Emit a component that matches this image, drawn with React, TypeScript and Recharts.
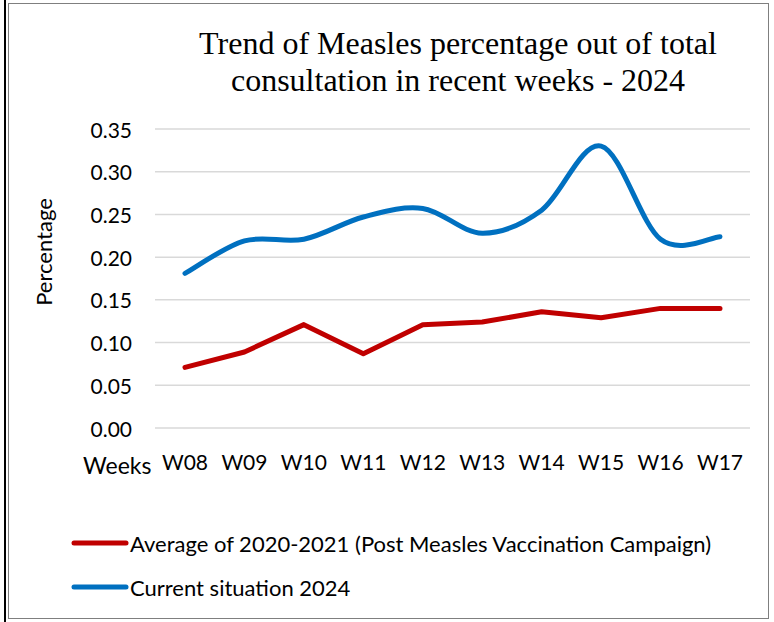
import React from "react";
import { LineChart, Line, XAxis, YAxis, CartesianGrid } from "recharts";

const weeks = ["W08", "W09", "W10", "W11", "W12", "W13", "W14", "W15", "W16", "W17"];
const avg2020to2021 = [0.071, 0.089, 0.121, 0.087, 0.121, 0.124, 0.136, 0.129, 0.14, 0.14];
const current2024 = [0.181, 0.219, 0.221, 0.247, 0.257, 0.228, 0.255, 0.33, 0.221, 0.224];
const yTicks = [0, 0.05, 0.1, 0.15, 0.2, 0.25, 0.3, 0.35];

const RED = "#C00000";
const BLUE = "#0070C0";
const SANS = "Lato, 'Noto Sans', sans-serif";

const chartData = weeks.map((w, i) => ({
  week: w,
  avg: avg2020to2021[i],
  cur: current2024[i],
}));

// Excel-like smoothed line (catmull-rom style bezier through each point)
function excelSmooth(context: any) {
  let pts: number[][] = [];
  return {
    areaStart() {},
    areaEnd() {},
    lineStart() {
      pts = [];
    },
    point(x: number, y: number) {
      pts.push([+x, +y]);
    },
    lineEnd() {
      if (!pts.length) return;
      context.moveTo(pts[0][0], pts[0][1]);
      const t = 1 / 6;
      for (let i = 0; i < pts.length - 1; i++) {
        const p0 = pts[Math.max(i - 1, 0)];
        const p1 = pts[i];
        const p2 = pts[i + 1];
        const p3 = pts[Math.min(i + 2, pts.length - 1)];
        context.bezierCurveTo(
          p1[0] + (p2[0] - p0[0]) * t,
          p1[1] + (p2[1] - p0[1]) * t,
          p2[0] - (p3[0] - p1[0]) * t,
          p2[1] - (p3[1] - p1[1]) * t,
          p2[0],
          p2[1]
        );
      }
    },
  };
}

const XTick = ({ x, payload }: any) => (
  <text x={x} y={461} textAnchor="middle" dominantBaseline="central" fontSize={21} fontFamily={SANS} fill="#000">
    {payload.value}
  </text>
);

const YTick = ({ y, payload }: any) => (
  <text x={132} y={y} textAnchor="end" dominantBaseline="central" fontSize={21} fontFamily={SANS} fill="#000">
    {Number(payload.value).toFixed(2)}
  </text>
);

const legendItems = [
  { label: "Average of 2020-2021 (Post Measles Vaccination Campaign)", color: RED },
  { label: "Current situation 2024", color: BLUE },
];

export default function App() {
  return (
    <div style={{ position: "absolute", left: 0, top: 0, width: 774, height: 622, background: "#fff" }}>
      <div style={{ position: "absolute", left: 4, top: 0, width: 2, height: 622, background: "#000" }} />
      <div
        style={{
          position: "absolute",
          left: 8,
          top: 3,
          width: 761,
          height: 616,
          border: "1.5px solid #7f7f7f",
          boxSizing: "border-box",
        }}
      />
      <div
        style={{
          position: "absolute",
          left: 158,
          width: 600,
          top: 25,
          textAlign: "center",
          fontFamily: "'Liberation Serif', 'Times New Roman', serif",
          fontSize: 32,
          lineHeight: "37px",
          color: "#000",
        }}
      >
        Trend of Measles percentage out of total
        <br />
        consultation in recent weeks - 2024
      </div>
      <div style={{ position: "absolute", left: 0, top: 0 }}>
        <LineChart width={774} height={622} data={chartData} margin={{ top: 129, right: 24, bottom: 164, left: 95 }}>
          <CartesianGrid vertical={false} stroke="#D9D9D9" strokeWidth={1.5} />
          <XAxis
            dataKey="week"
            axisLine={false}
            tickLine={false}
            tick={<XTick />}
            interval={0}
            height={30}
            padding={{ left: 30, right: 30 }}
          />
          <YAxis
            domain={[0, 0.35]}
            ticks={yTicks}
            axisLine={false}
            tickLine={false}
            tick={<YTick />}
            width={60}
            interval={0}
          />
          <Line
            dataKey="avg"
            type="linear"
            stroke={RED}
            strokeWidth={5}
            dot={false}
            strokeLinecap="round"
            strokeLinejoin="round"
            isAnimationActive={false}
          />
          <Line
            dataKey="cur"
            type={excelSmooth as any}
            stroke={BLUE}
            strokeWidth={5}
            dot={false}
            strokeLinecap="round"
            strokeLinejoin="round"
            isAnimationActive={false}
          />
        </LineChart>
      </div>
      <div style={{ position: "absolute", left: 70, top: 521 }}>
        {legendItems.map((it) => (
          <div key={it.label} style={{ display: "flex", alignItems: "center", height: 44 }}>
            <svg width={60} height={10}>
              <line x1={4} y1={5} x2={56} y2={5} stroke={it.color} strokeWidth={5} strokeLinecap="round" />
            </svg>
            <span style={{ fontFamily: SANS, fontSize: 22, color: "#000", whiteSpace: "nowrap" }}>{it.label}</span>
          </div>
        ))}
      </div>
      <div
        style={{
          position: "absolute",
          left: 43,
          top: 252,
          transform: "translate(-50%, -50%) rotate(-90deg)",
          fontFamily: SANS,
          fontSize: 22,
          color: "#000",
          whiteSpace: "nowrap",
        }}
      >
        Percentage
      </div>
      <div
        style={{
          position: "absolute",
          left: 83,
          top: 451,
          fontFamily: SANS,
          fontSize: 23,
          color: "#000",
        }}
      >
        Weeks
      </div>
    </div>
  );
}
